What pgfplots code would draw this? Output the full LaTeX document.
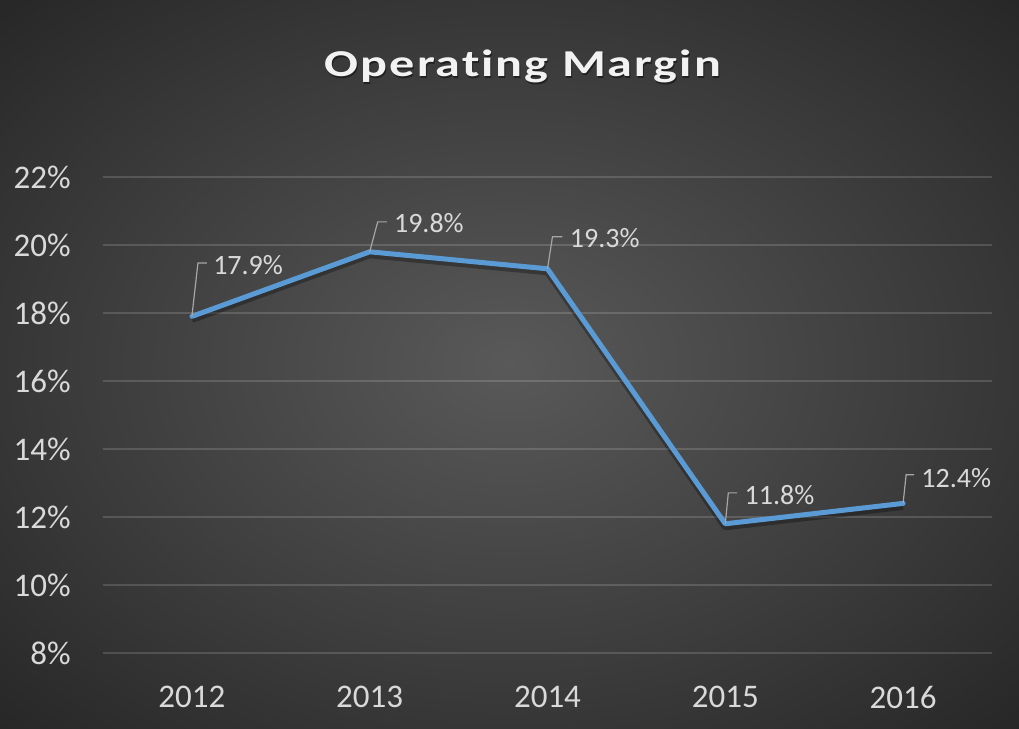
\documentclass[border=0pt]{standalone}
\usepackage{pgfplots}
\usepackage{pgfplotstable}
\usepackage{graphicx}
\pgfplotsset{compat=1.18}
\usepackage{fontspec}
\setmainfont{Carlito}
\newfontfamily\titlefont[LetterSpace=4,Ligatures=NoCommon]{Carlito}
\definecolor{bgA}{HTML}{595959}
\definecolor{bgB}{HTML}{363636}
\definecolor{bgC}{HTML}{262626}
\definecolor{linec}{HTML}{5B9BD5}
\definecolor{tickc}{HTML}{D9D9D9}
\definecolor{titlec}{HTML}{F2F2F2}
\definecolor{leadc}{HTML}{A6A6A6}
\pgfdeclareradialshading{bgshade}{\pgfpoint{0bp}{0bp}}{color(0bp)=(bgA); color(25bp)=(bgB); color(36bp)=(bgC); color(50bp)=(bgC)}

\pgfplotstableread{
x y
0 17.9
1 19.8
2 19.3
3 11.8
4 12.4
}\datatable

\pgfplotstableread{
lx ly val
0.118 19.147 17.9
1.135 20.38 19.8
2.124 19.94 19.3
3.107 12.38 11.8
4.101 12.88 12.4
}\labeltable

\pgfplotstableread{
x y
0 17.9
0.034 19.47
0.084 19.47
nan nan
1 19.8
1.045 20.68
1.096 20.68
nan nan
2 19.3
2.028 20.24
2.084 20.24
nan nan
3 11.8
3.017 12.71
3.067 12.71
nan nan
4 12.4
4.017 13.24
4.062 13.24
}\leadertable

\newcommand{\charttitle}{\resizebox{198pt}{\height}{\titlefont\bfseries\fontsize{19}{22}\selectfont Operating Margin}}

\begin{document}
\begin{tikzpicture}
\shade[shading=bgshade] (0,0) rectangle (509.5pt,364.5pt);
\useasboundingbox (0,0) rectangle (509.5pt,364.5pt);
\node[anchor=base, text=black, opacity=0.45, inner sep=0pt] at (262pt,325pt) {\charttitle};
\node[anchor=base, text=titlec, inner sep=0pt] at (261.5pt,326pt) {\charttitle};
\begin{axis}[
  at={(51.5pt,38pt)}, anchor=south west,
  scale only axis, width=444.5pt, height=238pt,
  xmin=-0.5, xmax=4.5, ymin=8, ymax=22,
  ytick={8,10,...,22},
  xtick={0,1,2,3,4},
  xticklabels={2012,2013,2014,2015,2016},
  axis line style={draw=none},
  major tick length=0pt,
  ymajorgrids,
  major grid style={white, opacity=0.15, line width=1pt},
  yticklabel={\pgfmathprintnumber[assume math mode=true]{\tick}\%},
  tick label style={font=\fontsize{16.5}{20}\selectfont, text=tickc},
  yticklabel style={anchor=east, inner sep=0pt, xshift=-16pt},
  xticklabel style={anchor=north, inner sep=0pt, yshift=-16.5pt},
  clip=false,
]
\addplot[black, opacity=0.3, line width=3.5pt, yshift=-1.5pt, line join=round, forget plot] table[x=x,y=y] {\datatable};
\addplot[linec, line width=2.5pt, line join=round, line cap=round] table[x=x,y=y] {\datatable};
\addplot[leadc, line width=0.6pt, unbounded coords=jump, forget plot] table[x=x,y=y] {\leadertable};
\addplot[draw=none, mark=none, forget plot,
  point meta=\thisrow{val},
  nodes near coords={\pgfmathprintnumber[fixed,fixed zerofill,precision=1,assume math mode=true]{\pgfplotspointmeta}\%},
  every node near coord/.append style={anchor=base west, inner sep=0pt, font=\fontsize{14}{17}\selectfont, text=tickc},
] table[x=lx,y=ly] {\labeltable};
\end{axis}
\end{tikzpicture}
\end{document}
